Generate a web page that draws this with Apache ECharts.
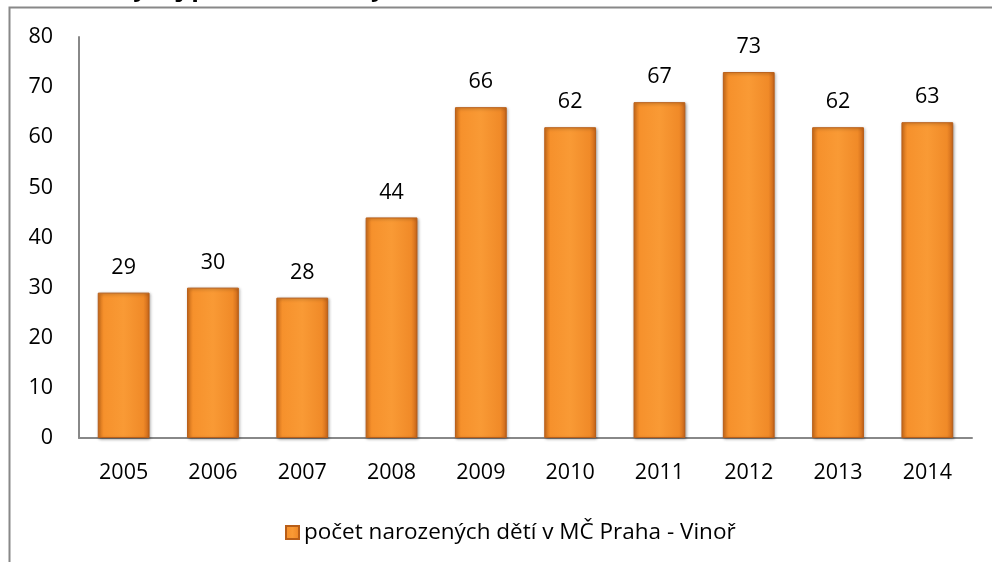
<!DOCTYPE html>
<html>
<head>
<meta charset="utf-8">
<script src="https://cdn.jsdelivr.net/npm/echarts@6/dist/echarts.min.js"></script>
<style>
  html, body { margin: 0; padding: 0; background: #fff; }
  #chart { width: 992px; height: 562px; }
</style>
</head>
<body>
<div id="chart"></div>
<script>
// data
const years = ['2005', '2006', '2007', '2008', '2009', '2010', '2011', '2012', '2013', '2014'];
const births = [29, 30, 28, 44, 66, 62, 67, 73, 62, 63];
const seriesName = 'počet narozených dětí v MČ Praha - Vinoř';
const titleText = 'Vývoj počtu narozených dětí';

const font = '"Open Sans", "Noto Sans", sans-serif';

// bevelled orange look of the bars
const barFill = new echarts.graphic.LinearGradient(0, 0, 1, 0, [
  { offset: 0, color: '#d9741c' },
  { offset: 0.12, color: '#f6912c' },
  { offset: 0.5, color: '#f99a35' },
  { offset: 0.88, color: '#f08a28' },
  { offset: 1, color: '#c9661a' }
]);

let myChart = echarts.init(document.getElementById('chart'));
let option = {
  backgroundColor: '#fff',
  animation: false,
  title: {
    text: titleText,
    left: 112,
    top: -29,
    textStyle: { fontFamily: font, fontSize: 25, fontWeight: 'bold', color: '#000' }
  },
  graphic: [{
    type: 'rect',
    shape: { x: 9.5, y: 7.5, width: 1000, height: 600 },
    style: { fill: 'none', stroke: '#888', lineWidth: 2 },
    z: 100
  }],
  grid: { left: 79, right: 20, top: 37, bottom: 124 },
  legend: {
    bottom: 13,
    left: 280,
    itemWidth: 13,
    itemHeight: 13,
    itemGap: 7,
    icon: 'rect',
    textStyle: { fontFamily: font, fontSize: 22.5, color: '#000' },
    data: [seriesName]
  },
  xAxis: {
    type: 'category',
    data: years,
    axisLine: { lineStyle: { color: '#888', width: 2 } },
    axisTick: { show: false },
    axisLabel: { fontFamily: font, fontSize: 21.5, color: '#000', margin: 24 }
  },
  yAxis: {
    type: 'value',
    min: 0,
    max: 80,
    interval: 10,
    splitLine: { show: false },
    axisLine: { show: true, lineStyle: { color: '#888', width: 2 } },
    axisTick: { show: false },
    axisLabel: { fontFamily: font, fontSize: 21.5, color: '#000', margin: 26 }
  },
  series: [{
    name: seriesName,
    type: 'bar',
    data: births,
    barWidth: '58%',
    itemStyle: {
      color: barFill,
      borderColor: '#b85e18',
      borderWidth: 1,
      shadowColor: 'rgba(0,0,0,0.35)',
      shadowBlur: 3,
      shadowOffsetX: 1,
      shadowOffsetY: 1
    },
    label: {
      show: true,
      position: 'top',
      distance: 14,
      fontFamily: font,
      fontSize: 21.5,
      color: '#000'
    }
  }]
};
myChart.setOption(option);
</script>
</body>
</html>
